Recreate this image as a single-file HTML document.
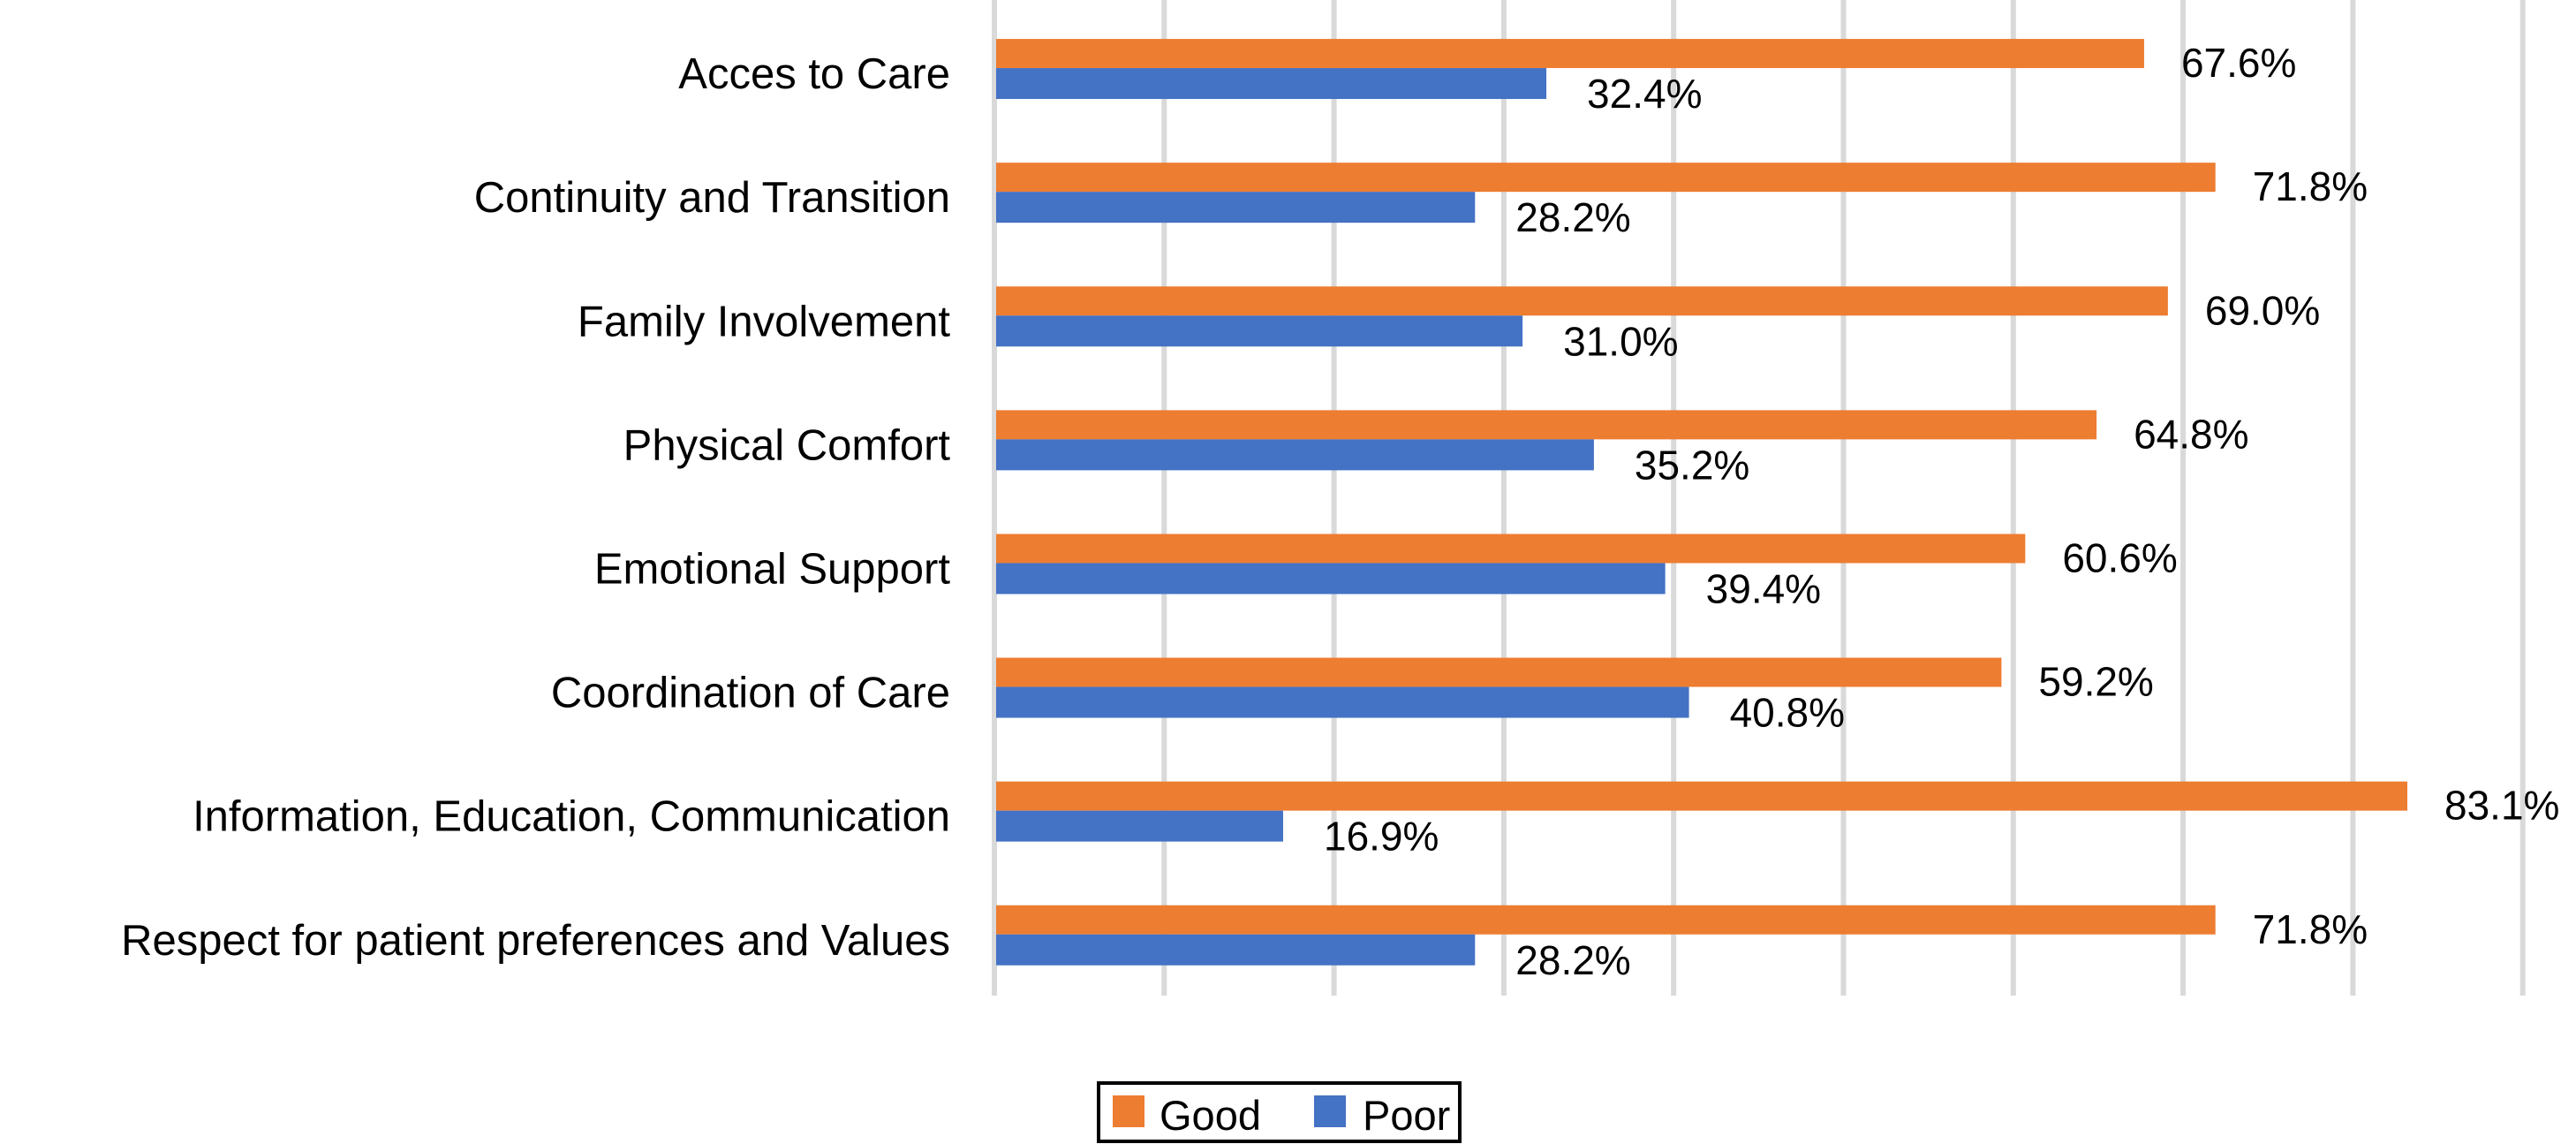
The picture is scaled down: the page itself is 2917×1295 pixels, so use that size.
<!DOCTYPE html>
<html><head><meta charset="utf-8"><style>
html,body{margin:0;padding:0;background:#fff;}
svg{display:block;font-family:"Liberation Sans",Arial,sans-serif;}
</style></head><body>
<svg id="chart" width="2917" height="1295" viewBox="0 0 2917 1295">
<g id="grid"></g>
<g id="cats"></g>
<g id="bars"></g>
<g id="vals"></g>
<g>
<rect x="1244" y="1226" width="409" height="66" fill="#fff" stroke="#000" stroke-width="4"/>
<g><rect x="1260" y="1240" width="36" height="36" fill="#ED7D31"/><text x="1313" y="1279" font-size="47">Good</text></g>
<g><rect x="1488" y="1240" width="36" height="36" fill="#4472C4"/><text x="1543" y="1279" font-size="47">Poor</text></g>
</g>
</svg>
<script>
const categories = ["Acces to Care","Continuity and Transition","Family Involvement","Physical Comfort","Emotional Support","Coordination of Care","Information, Education, Communication","Respect for patient preferences and Values"];
const goodValues = [67.6,71.8,69.0,64.8,60.6,59.2,83.1,71.8];
const poorValues = [32.4,28.2,31.0,35.2,39.4,40.8,16.9,28.2];
const xTicks = [0,10,20,30,40,50,60,70,80,90];

const NS="http://www.w3.org/2000/svg";
const x0=1128, pxPer=19.23, plotTop=7, band=140.1, barH=33;
const xs=v=>x0+v*pxPer;
const yc=i=>plotTop+band*(i+0.5);
function mk(t,a){const e=document.createElementNS(NS,t);for(const k in a)e.setAttribute(k,a[k]);return e;}
const grid=document.getElementById('grid'),cats=document.getElementById('cats'),bars=document.getElementById('bars'),vals=document.getElementById('vals');
xTicks.forEach(t=>{
  const l=mk('line',{x1:xs(t)-2,x2:xs(t)-2,y1:0,y2:1127,stroke:'#d9d9d9','stroke-width':6});
  
  
  grid.appendChild(l);
});
categories.forEach((c,i)=>{
  const t=mk('text',{x:1076,y:yc(i)+23,'font-size':49,'text-anchor':'end'});
  t.textContent=c;
  
  
  cats.appendChild(t);
  const g=mk('rect',{x:x0,y:yc(i)-barH,width:xs(goodValues[i])-x0,height:barH,fill:'#ED7D31'});
  
  
  bars.appendChild(g);
  const p=mk('rect',{x:x0,y:yc(i),width:xs(poorValues[i])-x0,height:barH+2,fill:'#4472C4'});
  
  
  bars.appendChild(p);
  const gv=mk('text',{x:xs(goodValues[i])+42,y:yc(i)+10,'font-size':46});
  gv.textContent=goodValues[i].toFixed(1)+'%';
  
  
  vals.appendChild(gv);
  const pv=mk('text',{x:xs(poorValues[i])+46,y:yc(i)+45,'font-size':46});
  pv.textContent=poorValues[i].toFixed(1)+'%';
  
  
  vals.appendChild(pv);
});
</script>
</body></html>
